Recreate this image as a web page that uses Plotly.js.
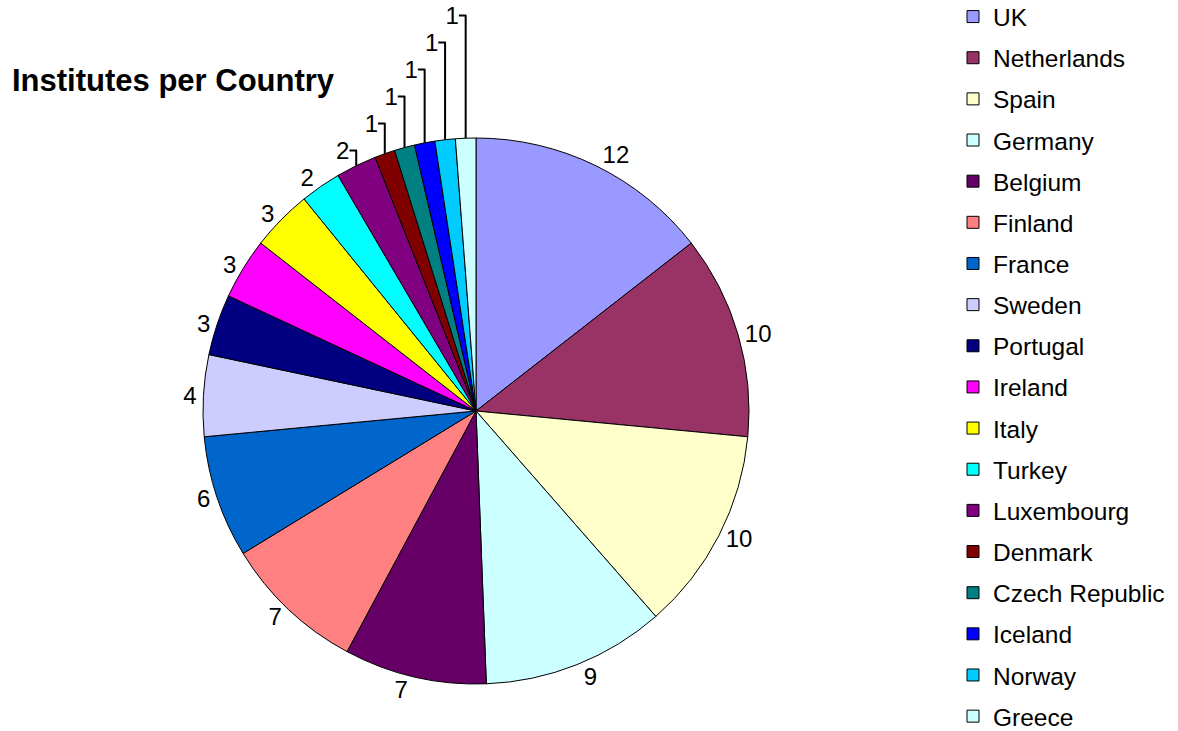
<!DOCTYPE html>
<html>
<head>
<meta charset="utf-8">
<script src="https://cdn.plot.ly/plotly-3.0.1.min.js"></script>
<style>html,body{margin:0;padding:0;background:#fff;}#chart{width:1178px;height:731px;}</style>
</head>
<body>
<div id="chart"></div>
<script>
const countries = ["UK","Netherlands","Spain","Germany","Belgium","Finland","France","Sweden","Portugal","Ireland","Italy","Turkey","Luxembourg","Denmark","Czech Republic","Iceland","Norway","Greece"];
const institutes = [12,10,10,9,7,7,6,4,3,3,3,2,2,1,1,1,1,1];
const sliceColors = ["#9999FF","#993366","#FFFFCC","#CCFFFF","#660066","#FF8080","#0066CC","#CCCCFF","#000080","#FF00FF","#FFFF00","#00FFFF","#800080","#800000","#008080","#0000FF","#00CCFF","#CCFFFF"];
const chartTitle = "Institutes per Country";

const FONT = '"Liberation Sans", Arial, sans-serif';

const traces = [{
  type: 'pie',
  labels: countries,
  values: institutes,
  sort: false,
  direction: 'clockwise',
  rotation: 0,
  marker: {colors: sliceColors, line: {color: '#000', width: 1}},
  textinfo: 'value',
  textposition: 'outside',
  textfont: {family: FONT, size: 24, color: '#000'},
  showlegend: false,
  domain: {x: [203/1178, 749/1178], y: [47/731, 593/731]},
  hoverinfo: 'label+value'
}];

countries.forEach((c, i) => {
  traces.push({
    type: 'scatter', mode: 'markers',
    x: [null], y: [null],
    name: c, legendgroup: 'g' + i,
    marker: {symbol: 'square', size: 12, color: sliceColors[i], line: {color: '#000', width: 1}},
    hoverinfo: 'skip'
  });
});

const layout = {
  width: 1178, height: 731,
  margin: {l: 0, r: 0, t: 0, b: 0, autoexpand: false},
  paper_bgcolor: '#fff', plot_bgcolor: '#fff',
  font: {family: FONT, color: '#000'},
  title: {text: '<b>' + chartTitle + '</b>', x: 12/1178, xanchor: 'left', xref: 'paper',
          y: 1 - 80/731, yanchor: 'middle', font: {family: FONT, size: 31, color: '#000'}},
  xaxis: {visible: false}, yaxis: {visible: false},
  showlegend: true,
  legend: {x: 953/1178, xanchor: 'left', y: 1.008, yanchor: 'top', font: {family: FONT, size: 24.5, color: '#000'},
           tracegroupgap: 6.3, maxheight: 800, bgcolor: 'rgba(0,0,0,0)', borderwidth: 0, itemclick: false, itemdoubleclick: false}
};

Plotly.newPlot('chart', traces, layout, {displayModeBar: false, staticPlot: true});
</script>
</body>
</html>
